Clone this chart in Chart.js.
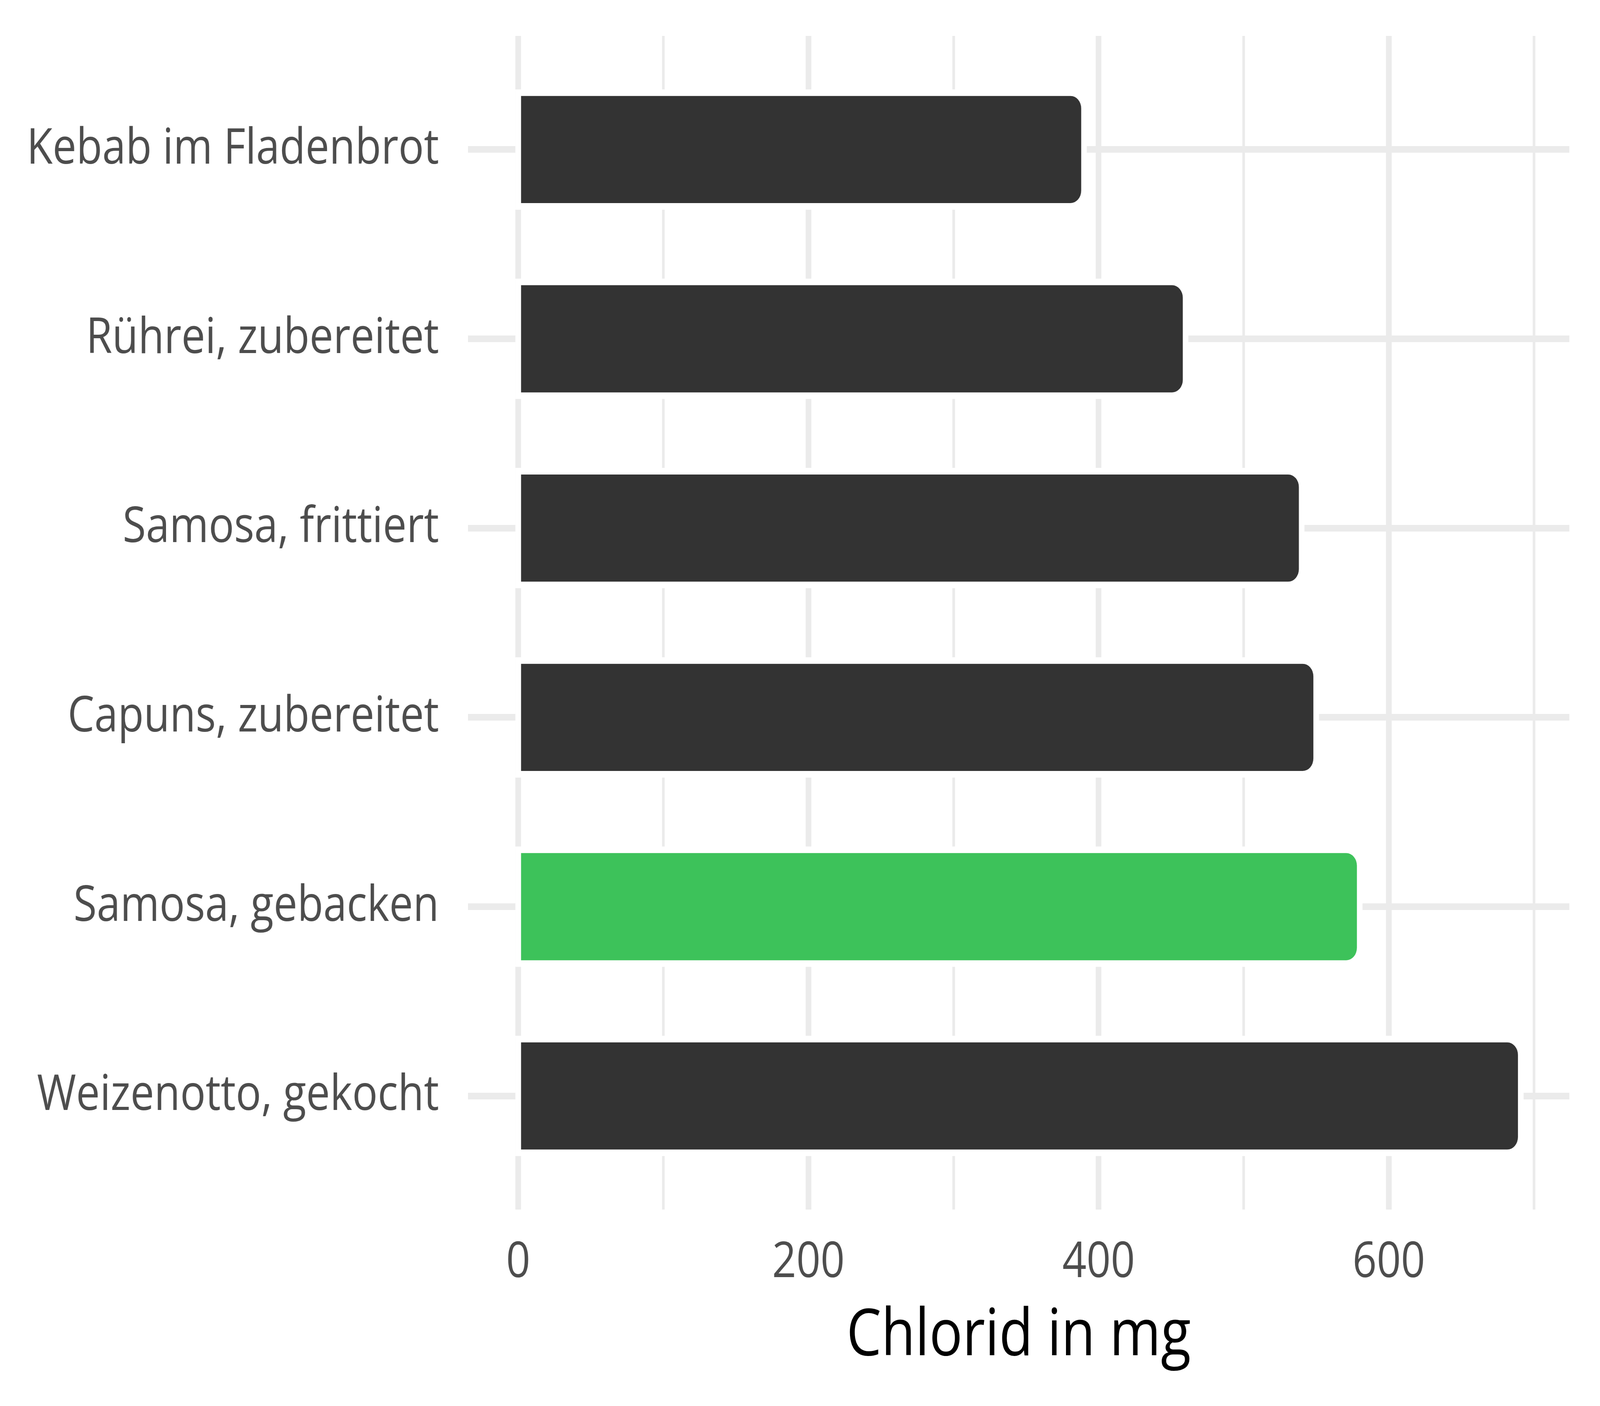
<!DOCTYPE html>
<html>
<head>
<meta charset="utf-8">
<script src="https://cdn.jsdelivr.net/npm/chart.js@4/dist/chart.umd.min.js"></script>
<style>
html,body{margin:0;padding:0;background:#ffffff;overflow:hidden;}
#wrap{position:absolute;left:0;top:0;width:4800px;height:3600px;transform-origin:0 0;}
</style>
</head>
<body>
<div id="wrap"><canvas id="c" width="4800" height="3600"></canvas></div>
<script>
const categories = ["Kebab im Fladenbrot", "Rührei, zubereitet", "Samosa, frittiert", "Capuns, zubereitet", "Samosa, gebacken", "Weizenotto, gekocht"];
const values = [388, 458, 538, 548, 578, 689];
const barColors = ["#333333", "#333333", "#333333", "#333333", "#3DC25A", "#333333"];
const xTickLabels = [0, 200, 400, 600];
const xAxisTitle = "Chlorid in mg";

// fit the 4800x3600 design into whatever viewport the browser really has
const wrap = document.getElementById('wrap');
wrap.style.transform = 'scale(' + (window.innerWidth / 4800) + ',' + (window.innerHeight / 3600) + ')';

const FONT = "'Open Sans', 'Noto Sans', sans-serif";
const GRID = "#EBEBEB";

new Chart(document.getElementById('c'), {
  type: 'bar',
  data: {
    datasets: [{
      data: values.map((v, i) => ({ x: v, y: i })),
      backgroundColor: barColors,
      borderColor: '#ffffff',
      borderWidth: 17,
      inflateAmount: 17,
      borderSkipped: false,
      borderRadius: { topLeft: 0, bottomLeft: 0, topRight: 49, bottomRight: 49 },
      categoryPercentage: 1,
      barPercentage: 0.566
    }]
  },
  options: {
    indexAxis: 'y',
    responsive: false,
    devicePixelRatio: 1,
    animation: false,
    layout: { padding: { left: 0, right: 92, top: 92, bottom: 0 } },
    plugins: { legend: { display: false }, tooltip: { enabled: false }, title: { display: false } },
    scales: {
      x: {
        type: 'linear',
        position: 'bottom',
        min: -34.6,
        max: 724.4,
        offset: false,
        afterFit: (s) => { s.height = 503; s.paddingLeft = 0; s.paddingRight = 0; },
        border: { display: false },
        grid: {
          color: GRID,
          offset: false,
          lineWidth: (ctx) => (ctx.tick && xTickLabels.includes(ctx.tick.value)) ? 17 : 8,
          drawTicks: false
        },
        ticks: {
          stepSize: 100,
          includeBounds: false,
          autoSkip: false,
          maxRotation: 0,
          padding: 61,
          color: '#4D4D4D',
          font: { family: FONT, size: 127, lineHeight: 1.2 },
          callback: (v) => xTickLabels.includes(v) ? String(v) : ''
        },
        title: {
          display: true,
          text: xAxisTitle,
          color: '#000000',
          font: { family: FONT, size: 166, lineHeight: 1.2 },
          padding: { top: 0, bottom: 78 }
        }
      },
      y: {
        type: 'linear',
        position: 'left',
        reverse: true,
        min: -0.6,
        max: 5.6,
        offset: false,
        afterFit: (s) => { s.width = 1404; s.paddingTop = 0; s.paddingBottom = 0; },
        border: { display: false },
        grid: { color: GRID, offset: false, lineWidth: 17, drawTicks: false },
        ticks: {
          stepSize: 1,
          includeBounds: false,
          autoSkip: false,
          padding: 87,
          color: '#4D4D4D',
          font: { family: FONT, size: 127, lineHeight: 1.2 },
          callback: (v) => (Number.isInteger(v) && categories[v] !== undefined) ? categories[v] : ''
        }
      }
    }
  }
});
</script>
</body>
</html>
